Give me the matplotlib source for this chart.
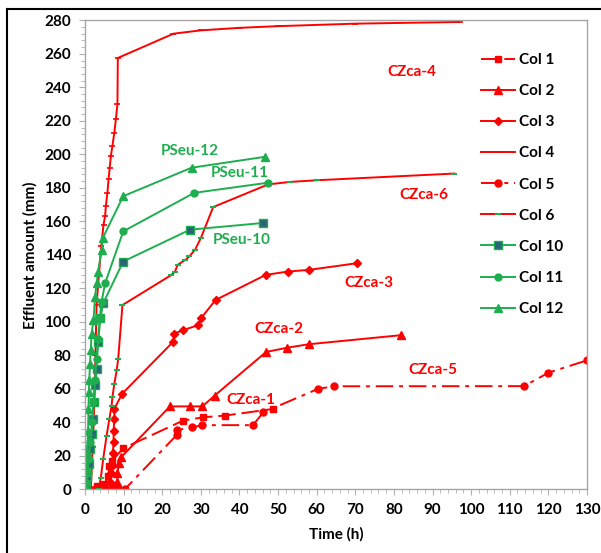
import matplotlib
matplotlib.use("Agg")
import matplotlib.pyplot as plt
from matplotlib.ticker import AutoMinorLocator
from matplotlib.lines import Line2D

plt.rcParams['font.family'] = ['Lato', 'DejaVu Sans']
plt.rcParams['font.weight'] = 'bold'

RED = '#ff0000'
GREEN = '#1fae4f'

# ---- data (Time h, Effluent mm) ----
col1_x = [0, 3, 5, 6, 6.3, 7, 9.9, 25.4, 30.6, 36.2, 48.8]
col1_y = [0, 2, 3, 8, 14, 17, 24.5, 41, 43, 44, 48]

col2_x = [0, 5, 7, 8.4, 8.4, 8.8, 9.3, 22, 27.2, 30.4, 33.6, 46.9, 52.3, 57.9, 81.8]
col2_y = [0, 0, 2, 4.4, 9.5, 16, 19, 49.5, 49.5, 49.5, 56, 82, 84.5, 86.6, 92]

col3_x = [0, 5, 6.6, 6.8, 7.0, 7.2, 7.4, 7.4, 7.6, 7.6, 9.6, 22.8, 23.1, 25.4, 29.3, 30, 33.8, 46.8, 52.5, 58, 70.5]
col3_y = [0, 0, 4.4, 9.5, 14, 21.5, 28, 35, 42, 48, 57, 88, 93, 95, 98, 102, 113, 128, 130, 131, 135]

col4_x = [0, 1.5, 2.0, 2.4, 2.7, 3.0, 3.6, 4.2, 4.8, 5.2, 5.4, 5.8, 6.1, 6.4, 6.7, 7.1, 7.6, 8.0, 8.4, 8.5, 22.9, 30, 40, 50, 70, 97]
col4_y = [0, 0, 25, 50, 80, 110, 128, 145, 158, 163, 169, 177, 185, 192, 199, 205, 213, 221, 230, 257.5, 272, 274, 275.5, 276.5, 278, 279]

col5_x = [0, 5.2, 6.9, 8.6, 10.3, 23.7, 23.7, 27.6, 30.4, 43.5, 46.2, 60.4, 64.5, 113.7, 120, 130]
col5_y = [0, 0, 0, 0, 0, 32.3, 35.3, 36.9, 38.3, 38.3, 46, 60, 61.5, 61.6, 69.6, 77]

col6_x = [0, 3.5, 4.1, 4.7, 5.6, 6.3, 6.9, 7.1, 7.6, 8.2, 8.6, 9.7, 22.4, 23.3, 24.0, 26.0, 27.0, 28.5, 30.0, 33.2, 47.4, 53, 60, 95.6]
col6_y = [0, 0, 7, 18, 32, 42, 50, 55, 63, 71, 78, 110, 128, 130, 134, 137, 139, 143, 150, 168.5, 182, 183.5, 184.5, 188.5]

col10_x = [0, 0.3, 0.6, 1.0, 1.3, 1.7, 2.0, 2.3, 2.7, 3.0, 3.4, 4.0, 4.7, 9.9, 27.2, 46.1]
col10_y = [0, 3, 8, 15, 24, 33, 42, 52, 62, 72, 88, 102, 111, 136, 155, 159]

col11_x = [0, 0.3, 0.7, 1.0, 1.4, 1.8, 2.2, 2.6, 3.0, 3.4, 3.8, 4.3, 5.2, 9.9, 28.3, 47.3]
col11_y = [0, 4, 10, 18, 28, 40, 52, 65, 78, 90, 102, 112, 123, 154, 177, 183]

col12_x = [0, 0.2, 0.4, 0.6, 0.8, 0.9, 1.0, 1.1, 1.3, 1.5, 1.7, 2.2, 2.6, 3.0, 3.4, 4.3, 4.6, 9.9, 27.6, 46.6]
col12_y = [0, 5, 12, 22, 35, 48, 58, 65, 75, 83, 93, 101, 115, 123, 130, 143, 150, 175, 192, 198.5]

labels = ["CZca-4", "CZca-6", "CZca-3", "CZca-2", "CZca-1", "CZca-5", "PSeu-12", "PSeu-11", "PSeu-10"]
label_x = [84.7, 87.8, 73.5, 50.2, 42.9, 90.0, 27.2, 40.1, 40.6]
label_y = [249, 175.7, 123.3, 95.5, 53.3, 71.2, 202, 188.6, 148.8]
label_c = [RED, RED, RED, RED, RED, RED, GREEN, GREEN, GREEN]

xticks = list(range(0, 131, 10))
yticks = list(range(0, 281, 20))

fig = plt.figure(figsize=(6.01, 5.53), dpi=100)
ax = fig.add_axes([85/601, 1 - 489.3/553, (587-85)/601, (489.3-20.3)/553])

lw = 1.4
ax.plot(col1_x, col1_y, color=RED, lw=lw, ls=(0, (9, 3)), marker='s', ms=5, label='Col 1')
ax.plot(col2_x, col2_y, color=RED, lw=lw, marker='^', ms=5.5, label='Col 2')
ax.plot(col3_x, col3_y, color=RED, lw=lw, marker='D', ms=4, label='Col 3')
ax.plot(col4_x, col4_y, color=RED, lw=lw, marker='_', ms=4, mew=1.2, label='Col 4')
ax.plot(col5_x, col5_y, color=RED, lw=lw, ls=(0, (9, 3, 2, 3)), marker='o', ms=5, label='Col 5')
ax.plot(col6_x, col6_y, color=RED, lw=lw, marker='_', ms=4, mew=1.5, mec=GREEN, label='Col 6')
ax.plot(col10_x, col10_y, color=GREEN, lw=lw, marker='s', ms=6, mfc='#2a6478', mec=GREEN, label='Col 10')
ax.plot(col11_x, col11_y, color=GREEN, lw=lw, marker='o', ms=5, label='Col 11')
ax.plot(col12_x, col12_y, color=GREEN, lw=lw, marker='^', ms=5.5, label='Col 12')

for t, x, y, c in zip(labels, label_x, label_y, label_c):
    ax.text(x, y, t, color=c, fontsize=11, fontweight='bold', ha='center', va='center')

ax.set_xlim(0, 130)
ax.set_ylim(0, 280)
ax.set_xticks(xticks)
ax.set_yticks(yticks)
ax.xaxis.set_minor_locator(AutoMinorLocator(5))
ax.yaxis.set_minor_locator(AutoMinorLocator(5))
ax.tick_params(axis='both', which='major', direction='out', length=4, color='#b0b0b0',
               labelsize=11, pad=6)
ax.tick_params(axis='both', which='minor', direction='out', length=3, color='#b0b0b0')
ax.tick_params(top=False, right=False)
for s in ax.spines.values():
    s.set_color('#a6a6a6')
    s.set_linewidth(1.0)
for lab in ax.get_xticklabels() + ax.get_yticklabels():
    lab.set_fontweight('bold')

ax.set_xlabel('Time (h)', fontsize=11, fontweight='bold', labelpad=7)
ax.set_ylabel('Effluent amount (mm)', fontsize=11, fontweight='bold', labelpad=5)

leg = ax.legend(loc='upper left', bbox_to_anchor=(0.789, 0.93), frameon=False,
                fontsize=11, handlelength=2.2, handletextpad=0.3, labelspacing=1.12,
                borderpad=0, borderaxespad=0)
for t in leg.get_texts():
    t.set_fontweight('bold')

# outer frame lines (top and left)
fig.add_artist(Line2D([6.5/601, 6.5/601], [0, 1 - 9/553], transform=fig.transFigure, color='black', lw=1.5))
fig.add_artist(Line2D([6.5/601, 1], [1 - 9/553, 1 - 9/553], transform=fig.transFigure, color='black', lw=1.5))

fig.savefig('out.png', dpi=100)
